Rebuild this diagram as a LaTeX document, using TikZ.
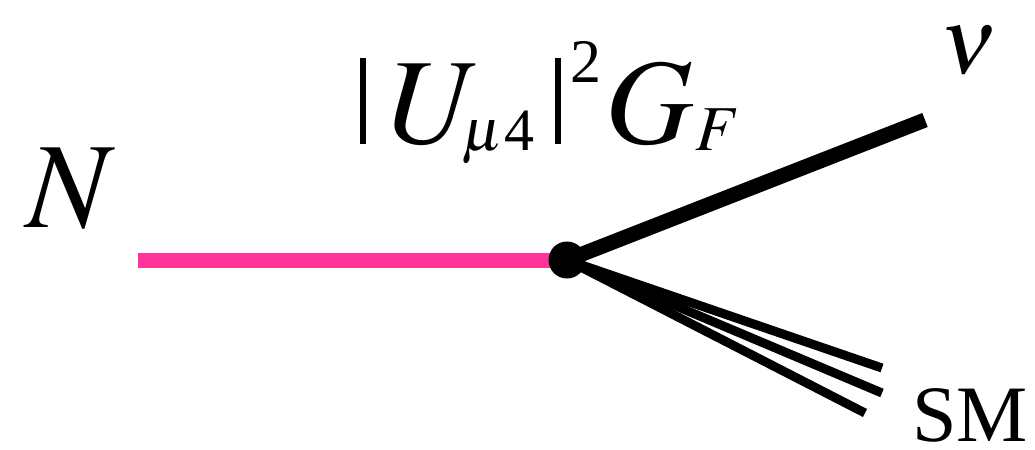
\documentclass[tikz,border=0pt]{standalone}
\usepackage{mathptmx}
\usepackage{fontspec}
\setmainfont{Liberation Serif}
\definecolor{sterilepink}{RGB}{255,51,153}
\newdimen\pxu \pxu=0.5pt
\newcommand{\absbar}{\rule[-0.5pt]{3pt}{43pt}}
\newcommand{\subtext}[2]{\raisebox{-3.5pt}{\fontsize{#1}{#1}\selectfont #2}}
\tikzset{
  heavy/.style={line width=7.5pt},
  fan/.style={line width=4.5pt},
  vertex/.style={circle,fill=black,inner sep=0pt,minimum size=18.5pt},
  biglabel/.style={inner sep=0pt,font=\fontsize{61}{61}\selectfont},
}
\begin{document}
\begin{tikzpicture}[x=0.5pt,y=-0.5pt]
\useasboundingbox (0,0) rectangle (1035,450);

\coordinate (nstart) at (138,260);
\coordinate (v) at (567,260);
\coordinate (nuend) at (925,120);
\coordinate (sma) at (882,368);
\coordinate (smb) at (882,393);
\coordinate (smc) at (865,413);

\draw[heavy,sterilepink] (nstart) -- (v);
\draw[heavy] (v) -- (nuend);
\foreach \e in {sma,smb,smc}
  \draw[fan] (v) -- (\e);
\node[vertex] (vtx) at (v) {};

\node[biglabel] (nlabel) at (71,189) {$N$};
\node[inner sep=0pt,anchor=base,font=\fontsize{47}{47}\selectfont] (nulabel) at (969,73) {$\nu$};
% coupling label
\node[biglabel,anchor=base west] (coupling) at (360,143)
  {\absbar\kern22\pxu$U$\kern-20\pxu\subtext{30}{$\mu$\kern2\pxu 4}\kern20\pxu\absbar\kern10\pxu
   \raisebox{30.5pt}{\fontsize{31}{31}\selectfont 2}\kern4\pxu$G$\kern2\pxu\subtext{32}{$F$}};
\node[inner sep=0pt,anchor=base west,font=\fontsize{40}{40}\selectfont]
  (smlabel) at (912,441) {SM};
\end{tikzpicture}
\end{document}
